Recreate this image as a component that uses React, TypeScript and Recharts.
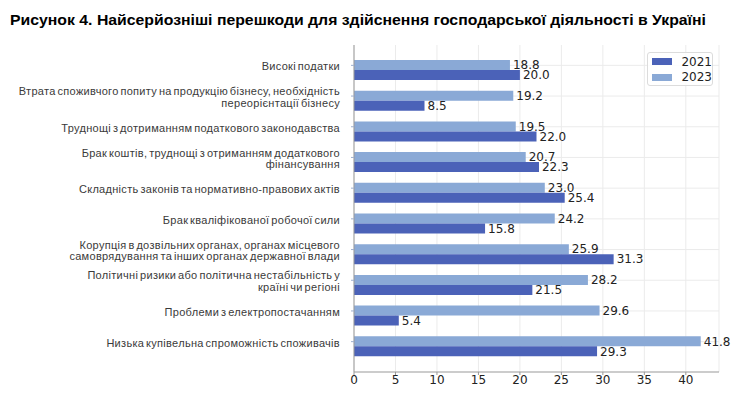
import React from "react";
import {
  BarChart,
  Bar,
  XAxis,
  YAxis,
  CartesianGrid,
  LabelList,
} from "recharts";

const categories = [
  "Високі податки",
  "Втрата споживчого попиту на продукцію бізнесу, необхідність\nпереорієнтації бізнесу",
  "Труднощі з дотриманням податкового законодавства",
  "Брак коштів, труднощі з отриманням додаткового\nфінансування",
  "Складність законів та нормативно-правових актів",
  "Брак кваліфікованої робочої сили",
  "Корупція в дозвільних органах, органах місцевого\nсамоврядування та інших органах державної влади",
  "Політичні ризики або політична нестабільність у\nкраїні чи регіоні",
  "Проблеми з електропостачанням",
  "Низька купівельна спроможність споживачів",
];

const values2023 = [18.8, 19.2, 19.5, 20.7, 23.0, 24.2, 25.9, 28.2, 29.6, 41.8];
const values2021 = [20.0, 8.5, 22.0, 22.3, 25.4, 15.8, 31.3, 21.5, 5.4, 29.3];

const xTicks = [0, 5, 10, 15, 20, 25, 30, 35, 40];

const COLOR_2021 = "#4b62b8";
const COLOR_2023 = "#8aa9d6";

const data = categories.map((name, i) => ({
  name,
  y2023: values2023[i],
  y2021: values2021[i],
}));

// ticks in the source sit on the centre of the upper (2023) bar
const SHIFT = 5;
const PAD = 10;

function CategoryTick(props: any) {
  const { x, y, payload } = props;
  const lines = String(payload.value).split("\n");
  const lh = 11.7;
  const y0 = y - SHIFT + 1 - ((lines.length - 1) * lh) / 2;
  return (
    <g>
      <line x1={x - 3} x2={x} y1={y - SHIFT} y2={y - SHIFT} stroke="#9fb0cf" />
      <text
        x={x - 14}
        y={y0}
        textAnchor="end"
        dominantBaseline="central"
        fontFamily="'Liberation Sans', Arial, sans-serif"
        fontSize={11}
        letterSpacing={0.3}
        wordSpacing={-1.5}
        fill="#3a3a3a"
      >
        {lines.map((l, i) => (
          <tspan key={i} x={x - 14} dy={i === 0 ? 0 : lh}>
            {l}
          </tspan>
        ))}
      </text>
    </g>
  );
}

function LegendBox() {
  const items = [
    { label: "2021", color: COLOR_2021 },
    { label: "2023", color: COLOR_2023 },
  ];
  return (
    <div
      style={{
        position: "absolute",
        left: 647,
        top: 52,
        width: 66,
        height: 34,
        boxSizing: "border-box",
        border: "1px solid #dcdcdc",
        borderRadius: 3,
        background: "rgba(255,255,255,0.85)",
        padding: "1px 0 0 4px",
        fontFamily: "'DejaVu Sans', sans-serif",
        fontSize: 12,
        color: "#222",
      }}
    >
      {items.map((it) => (
        <div
          key={it.label}
          style={{ display: "flex", alignItems: "center", height: 15.5 }}
        >
          <span
            style={{
              display: "inline-block",
              width: 21,
              height: 7,
              background: it.color,
              marginRight: 9,
            }}
          />
          <span>{it.label}</span>
        </div>
      ))}
    </div>
  );
}

function gridRows({ offset }: any) {
  if (!offset) return [];
  const band = (offset.height - 2 * PAD) / categories.length;
  return categories.map(
    (_, i) => offset.top + PAD + band * (i + 0.5) - SHIFT
  );
}

const valueLabelStyle = {
  fill: "#222",
  fontSize: 12,
  fontFamily: "'DejaVu Sans', sans-serif",
};

export default function App() {
  return (
    <div
      style={{
        position: "absolute",
        left: 0,
        top: 0,
        width: 741,
        height: 400,
        background: "#fff",
      }}
    >
      <svg
        width={741}
        height={40}
        style={{ position: "absolute", left: 0, top: 0 }}
      >
        <text
          x={10}
          y={25}
          textLength={696}
          lengthAdjust="spacingAndGlyphs"
          fontFamily="'Liberation Sans', Arial, sans-serif"
          fontWeight="bold"
          fontSize={15.5}
          fill="#000"
        >
          Рисунок 4. Найсерйозніші перешкоди для здійснення господарської
          діяльності в Україні
        </text>
      </svg>
      <BarChart
        width={741}
        height={400}
        data={data}
        layout="vertical"
        barSize={10}
        barGap={0}
        margin={{ top: 45, right: 22, bottom: 0, left: 0 }}
        style={{ position: "absolute", left: 0, top: 0 }}
      >
        <CartesianGrid
          stroke="#ebebeb"
          horizontalCoordinatesGenerator={gridRows}
        />
        <XAxis
          type="number"
          domain={[0, 44]}
          ticks={xTicks}
          height={28}
          tickSize={3}
          tickMargin={0}
          stroke="#999"
          tick={{
            fill: "#222",
            fontSize: 12,
            fontFamily: "'DejaVu Sans', sans-serif",
          }}
        />
        <YAxis
          type="category"
          dataKey="name"
          width={354}
          padding={{ top: PAD, bottom: PAD }}
          tickLine={false}
          tickSize={0}
          tickMargin={0}
          stroke="#999"
          interval={0}
          tick={<CategoryTick />}
        />
        <Bar dataKey="y2023" fill={COLOR_2023} isAnimationActive={false}>
          <LabelList
            dataKey="y2023"
            position="right"
            offset={3}
            formatter={(v: any) => Number(v).toFixed(1)}
            style={valueLabelStyle}
          />
        </Bar>
        <Bar dataKey="y2021" fill={COLOR_2021} isAnimationActive={false}>
          <LabelList
            dataKey="y2021"
            position="right"
            offset={3}
            formatter={(v: any) => Number(v).toFixed(1)}
            style={valueLabelStyle}
          />
        </Bar>
      </BarChart>
      <LegendBox />
    </div>
  );
}
